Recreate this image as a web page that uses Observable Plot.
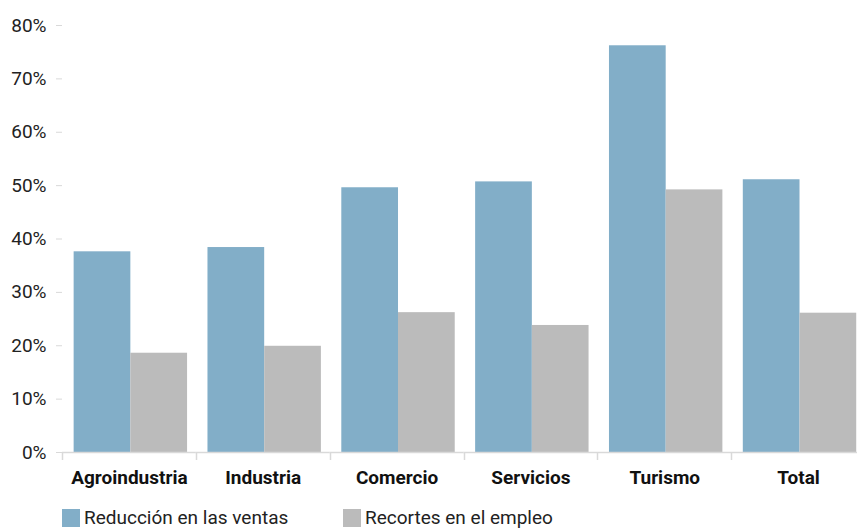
<!DOCTYPE html>
<html>
<head>
<meta charset="utf-8">
<script src="https://cdn.jsdelivr.net/npm/d3@7"></script>
<script src="https://cdn.jsdelivr.net/npm/@observablehq/plot@0.6"></script>
<style>
  html, body { margin: 0; background: #fff; overflow: hidden; font-family: "Roboto", "Noto Sans", sans-serif; }
  #chart { width: 857px; height: 500px; overflow: hidden; }
  #chart svg { max-width: none !important; }
  #legend { position: relative; height: 22px; margin-top: 7px; font-size: 19px; color: #222; }
  .item { display: flex; align-items: center; position: absolute; top: 0; height: 22px; line-height: 22px; }
  .sw { width: 18px; height: 18px; margin-right: 4px; }
</style>
</head>
<body>
<div id="chart"></div>
<div id="legend"></div>
<script>
const categories = ["Agroindustria", "Industria", "Comercio", "Servicios", "Turismo", "Total"];
const seriesNames = ["Reducción en las ventas", "Recortes en el empleo"];
const ventas = [37.6, 38.4, 49.6, 50.7, 76.2, 51.1];
const empleo = [18.6, 19.9, 26.2, 23.8, 49.2, 26.1];
const yTicks = [0, 10, 20, 30, 40, 50, 60, 70, 80];
const colors = ["#82AEC8", "#BBBBBB"];

const data = [];
categories.forEach((c, i) => {
  data.push({category: c, series: seriesNames[0], value: ventas[i]});
  data.push({category: c, series: seriesNames[1], value: empleo[i]});
});

// the reference crops the last group slightly at the right edge
const W = 865, H = 500, ML = 62, MR = 0, MT = 25, MB = 48;

const plot = Plot.plot({
  width: W,
  height: H,
  marginLeft: ML,
  marginRight: MR,
  marginTop: MT,
  marginBottom: MB,
  style: {fontFamily: "Roboto, 'Noto Sans', sans-serif", fontSize: "19px", color: "#222", background: "#fff", maxWidth: "none"},
  fx: {domain: categories, padding: 0, label: null, round: false},
  x: {domain: seriesNames, paddingInner: 0, paddingOuter: 0.18, align: 0.57, axis: null, round: false},
  y: {domain: [0, 80], label: null},
  color: {domain: seriesNames, range: colors},
  marks: [
    Plot.barY(data, {fx: "category", x: "series", y: "value", fill: "series"}),
    Plot.ruleY([0], {stroke: "#d9d9d9", strokeWidth: 1.5}),
    Plot.axisY({ticks: yTicks, tickFormat: d => d + "%", tickSize: 6, tickPadding: 10, stroke: "#d9d9d9", fill: "#222", fontSize: 19, label: null}),
    Plot.ruleX([0], {stroke: "#d9d9d9", strokeWidth: 1.5, y1: 0, y2: 80, facet: "exclude"}),
    Plot.axisFx({anchor: "bottom", tickSize: 0, tickPadding: 18, fontWeight: "bold", fontSize: 19, label: null, fill: "#111"})
  ]
});

document.getElementById("chart").appendChild(plot);

// category boundary ticks below the baseline, from the fx scale
const fx = plot.scale("fx");
const y = plot.scale("y");
const y0 = y.apply ? y.apply(0) : (H - MB);
const step = fx.step || ((fx.range[1] - fx.range[0]) / categories.length);
const start = fx.range[0];
const svg = d3.select(plot);
for (let i = 0; i <= categories.length; i++) {
  const xx = Math.round(start + i * step) + 0.5;
  svg.append("line")
    .attr("x1", xx).attr("x2", xx)
    .attr("y1", y0).attr("y2", y0 + 8)
    .attr("stroke", "#d9d9d9").attr("stroke-width", 1.5);
}

// legend
const legend = document.getElementById("legend");
const lx = [62, 343];
seriesNames.forEach((s, i) => {
  const it = document.createElement("div");
  it.className = "item";
  it.style.left = lx[i] + "px";
  it.innerHTML = `<div class="sw" style="background:${colors[i]}"></div><span>${s}</span>`;
  legend.appendChild(it);
});
</script>
</body>
</html>
